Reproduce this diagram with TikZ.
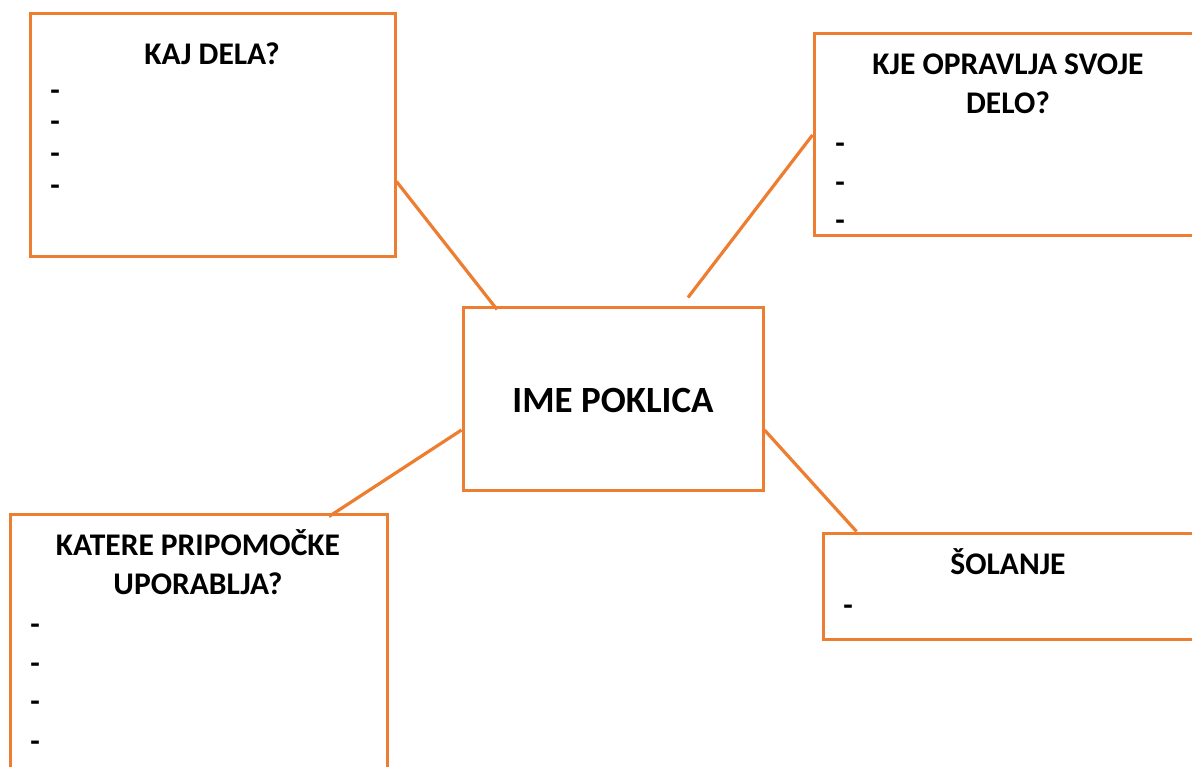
\documentclass[tikz,border=0pt]{standalone}
\usepackage{fontspec}
\setmainfont{Carlito}
\usepackage{tikz}
\usetikzlibrary{calc}
\definecolor{oranzna}{HTML}{ED7D31}
\tikzstyle{okvir}=[draw=oranzna, line width=3pt, fill=white, inner sep=0pt]
\tikzstyle{naslov}=[font=\bfseries\fontsize{31.5}{39}\selectfont, align=center, anchor=base, inner sep=0pt]
\tikzstyle{alineja}=[font=\bfseries\fontsize{31}{36}\selectfont, anchor=base, inner sep=0pt]
\tikzstyle{vez}=[draw=oranzna, line width=3.2pt]

\begin{document}
\begin{tikzpicture}[x=1pt, y=-1pt]
	\useasboundingbox (0,0) rectangle (1192,767);
	\clip (0,0) rectangle (1192,767);
	% okvirji
	\node[okvir, minimum width=365pt, minimum height=243pt] (kaj) at (212.5,135.5) {};
	\node[okvir, minimum width=396pt, minimum height=202pt] (kje) at (1012,135) {};
	\node[okvir, minimum width=300pt, minimum height=182pt] (ime) at (613,399) {};
	\node[okvir, minimum width=377pt, minimum height=286pt] (pomoc) at (198.5,657) {};
	\node[okvir, minimum width=387pt, minimum height=106pt] (sol) at (1016.5,586) {};
	% povezave
	\draw[vez] ([yshift=-46pt]kaj.east) -- ([xshift=-116pt,yshift=-3pt]ime.north);
	\draw[vez] (kje.west) -- ([xshift=75pt,yshift=9pt]ime.north);
	\draw[vez] ([yshift=-31pt]ime.west) -- ([xshift=130.5pt,yshift=-4pt]pomoc.north);
	\draw[vez] ([yshift=-31pt]ime.east) -- ([xshift=35pt]sol.north west);
	% naslovi
	\node[naslov] (kajt) at (212,65) {KAJ DELA?};
	\node[naslov] (kjet) at (1008,114) {KJE OPRAVLJA SVOJE\\DELO?};
	\node[naslov, font=\bfseries\fontsize{37}{44}\selectfont] (imet) at (613,412) {IME POKLICA};
	\node[naslov] (pomoct) at (198,594) {KATERE PRIPOMOČKE\\UPORABLJA?};
	\node[naslov] (solt) at (1008,574) {ŠOLANJE};
	% alineje
	\foreach \y [count=\i] in {101,132,164,196}
		\node[alineja] (kajd\i) at (55,\y) {-};
	\foreach \y [count=\i] in {154,193,231}
		\node[alineja] (kjed\i) at (840,\y) {-};
	\foreach \y [count=\i] in {634,673,711,751}
		\node[alineja] (pomocd\i) at (35,\y) {-};
	\node[alineja] (sold1) at (848,615) {-};
\end{tikzpicture}
\end{document}
